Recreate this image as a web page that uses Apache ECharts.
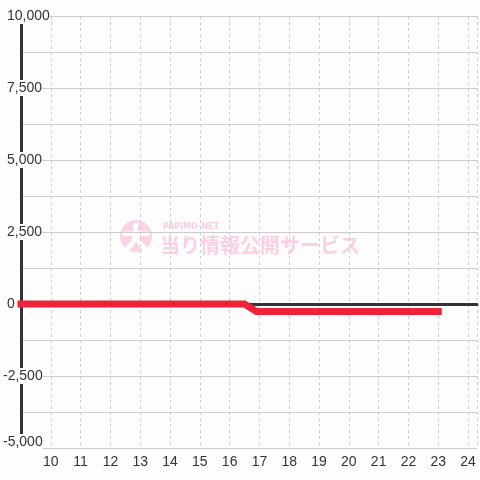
<!DOCTYPE html>
<html>
<head>
<meta charset="utf-8">
<script src="https://cdn.jsdelivr.net/npm/echarts@6/dist/echarts.min.js"></script>
<style>
html,body{margin:0;padding:0;background:#fcfdfc;}
#chart{width:480px;height:480px;}
</style>
</head>
<body>
<div id="chart"></div>
<script>
// Data
const xValues = [9, 16.5, 16.9, 23];
const yValues = [0, 0, -260, -260];
const xTicks = [10, 11, 12, 13, 14, 15, 16, 17, 18, 19, 20, 21, 22, 23, 24];
const yTicks = [-5000, -2500, 0, 2500, 5000, 7500, 10000];
const watermarkTitle = 'PAPIMO-NET';
const watermarkText = '当り情報公開サービス';
const watermarkMark = '大';

const seriesData = xValues.map((x, i) => [x, yValues[i]]);
const BG = '#fcfdfc';
const FONT = "'Liberation Sans', Arial, sans-serif";

const chart = echarts.init(document.getElementById('chart'));
chart.setOption({
  backgroundColor: BG,
  animation: false,
  grid: { left: 21, right: 0, top: 16, bottom: 32, containLabel: false },
  xAxis: [{
    type: 'value',
    min: 9,
    max: 24.3,
    interval: 1,
    axisLine: { show: false },
    axisTick: { show: false },
    axisLabel: {
      color: '#333', fontSize: 14, fontFamily: FONT, margin: 7,
      formatter: v => xTicks.indexOf(v) >= 0 ? String(v) : ''
    },
    splitLine: { show: true, lineStyle: { color: '#cccccc', type: [3, 3], width: 1 } }
  }, {
    type: 'value',
    min: 9,
    max: 24.3,
    position: 'bottom',
    axisLine: { show: true, onZero: true, onZeroAxisIndex: 0, lineStyle: { color: '#333', width: 3 } },
    axisTick: { show: false },
    axisLabel: { show: false },
    splitLine: { show: false }
  }],
  yAxis: {
    type: 'value',
    min: yTicks[0],
    max: yTicks[yTicks.length - 1],
    interval: 2500,
    axisLine: { show: true, onZero: false, lineStyle: { color: '#333', width: 3 } },
    axisTick: { show: false },
    axisLabel: {
      align: 'left', margin: 18, fontSize: 14, fontFamily: FONT, color: '#333',
      formatter: v => {
        const s = Number(v).toLocaleString('en-US');
        if (v === yTicks[0]) return '{b|' + s + '}';
        return v >= 0 ? '{p|' + s + '}' : '{n|' + s + '}';
      },
      rich: {
        p: { fontSize: 14, fontFamily: FONT, color: '#333', backgroundColor: BG, padding: [1, 0, 1, 4] },
        n: { fontSize: 14, fontFamily: FONT, color: '#333', backgroundColor: BG, padding: [1, 0, 1, 0] },
        b: { fontSize: 14, fontFamily: FONT, color: '#333', backgroundColor: BG, padding: [1, 0, 13, 0] }
      }
    },
    splitLine: { show: true, lineStyle: { color: '#cccccc', width: 1 } },
    minorTick: { show: false, splitNumber: 2 },
    minorSplitLine: { show: true, lineStyle: { color: '#cccccc', width: 1 } }
  },
  graphic: [
    { type: 'circle', z: -10, silent: true, shape: { cx: 136, cy: 236, r: 16 }, style: { fill: '#fcd3e6' } },
    { type: 'text', z: -9, silent: true, x: 136, y: 238,
      style: { text: watermarkMark, fill: '#ffffff', font: "900 30px 'Noto Sans CJK JP'", align: 'center', verticalAlign: 'middle' } },
    { type: 'text', z: -9, silent: true, x: 163, y: 227,
      style: { text: watermarkTitle, fill: '#fbcfe3', font: "bold 8px 'DejaVu Sans'", align: 'left', verticalAlign: 'middle' } },
    { type: 'text', z: -9, silent: true, x: 160, y: 245,
      style: { text: watermarkText, fill: '#fbd0e4', font: "bold 20px 'Noto Sans CJK JP'", align: 'left', verticalAlign: 'middle' } }
  ],
  series: [{
    type: 'line',
    data: seriesData,
    symbol: 'none',
    xAxisIndex: 0,
    lineStyle: { color: '#ee2238', width: 7, cap: 'square', join: 'miter' },
    z: 5
  }]
});
</script>
</body>
</html>
